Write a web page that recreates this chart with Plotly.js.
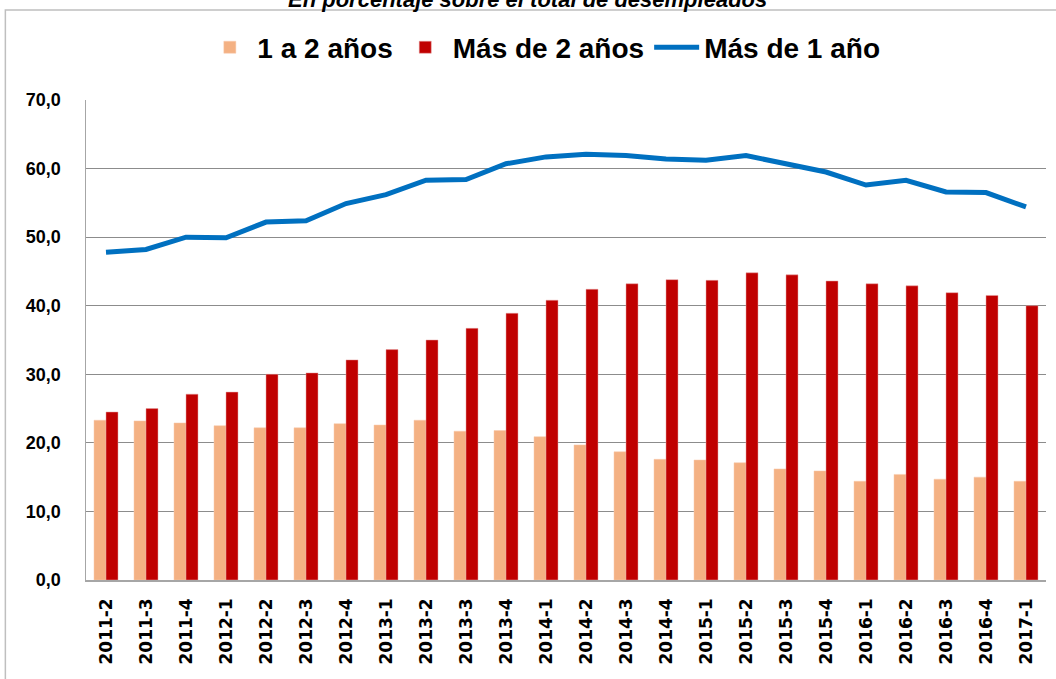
<!DOCTYPE html>
<html>
<head>
<meta charset="utf-8">
<script src="https://cdn.plot.ly/plotly-3.0.1.min.js"></script>
<style>html,body{margin:0;padding:0;background:#fff;}#chart{width:1056px;height:679px;}</style>
</head>
<body>
<div id="chart"></div>
<script>
const categories = ["2011-2","2011-3","2011-4","2012-1","2012-2","2012-3","2012-4","2013-1","2013-2","2013-3","2013-4","2014-1","2014-2","2014-3","2014-4","2015-1","2015-2","2015-3","2015-4","2016-1","2016-2","2016-3","2016-4","2017-1"];
const unoADos = [23.3,23.2,22.9,22.5,22.2,22.2,22.8,22.6,23.3,21.7,21.8,20.9,19.7,18.7,17.6,17.5,17.1,16.2,15.9,14.4,15.4,14.7,15.0,14.4];
const masDeDos = [24.5,25.0,27.1,27.4,30.0,30.2,32.1,33.6,35.0,36.7,38.9,40.8,42.4,43.2,43.8,43.7,44.8,44.5,43.6,43.2,42.9,41.9,41.5,40.0];
const masDeUno = [47.8,48.2,50.0,49.9,52.2,52.4,54.9,56.2,58.3,58.4,60.7,61.7,62.1,61.9,61.4,61.2,61.9,60.7,59.5,57.6,58.3,56.6,56.5,54.4];
const seriesNames = ["1 a 2 años","Más de 2 años","Más de 1 año"];
const subtitle = "En porcentaje sobre el total de desempleados";

const legendFont = {family: "Liberation Sans", size: 28, color: "#000", weight: "bold"};

const traces = [
  {type: "bar", name: seriesNames[0], x: categories, y: unoADos,
   marker: {color: "#F4B183", line: {color: "#F8CBAD", width: 0.5}}},
  {type: "bar", name: seriesNames[1], x: categories, y: masDeDos,
   marker: {color: "#C00000", line: {color: "#E6A0A0", width: 0.5}}},
  {type: "scatter", mode: "lines", name: seriesNames[2], x: categories, y: masDeUno,
   line: {color: "#0070C0", width: 5}}
];

const layout = {
  width: 1056, height: 679,
  margin: {l: 86, r: 10, t: 100, b: 99},
  paper_bgcolor: "#fff", plot_bgcolor: "#fff",
  separators: ",.",
  barmode: "group",
  bargap: 0.4,
  bargroupgap: 0,
  showlegend: true,
  legend: {orientation: "h", xref: "container", x: 0.515, xanchor: "center",
           yref: "container", y: 0.93, yanchor: "middle",
           font: legendFont, traceorder: "normal", itemwidth: 45},
  xaxis: {type: "category", tickangle: -90, showgrid: false, showline: true,
          linecolor: "#a6a6a6", linewidth: 1.5, ticks: "",
          ticklabelstandoff: 10,
          tickfont: {family: "DejaVu Sans", size: 17, color: "#000", weight: "bold"}},
  yaxis: {range: [0, 70], dtick: 10, tickformat: ".1f", showgrid: true,
          gridcolor: "#8c8c8c", gridwidth: 1, showline: true, linecolor: "#a6a6a6",
          linewidth: 1.5, zeroline: false, ticks: "", ticklabelstandoff: 20,
          tickfont: {family: "Liberation Sans", size: 18, color: "#000", weight: "bold"}},
  annotations: [{text: subtitle, xref: "paper", x: 0.46, xanchor: "center",
                 yref: "paper", y: 1, yanchor: "middle", yshift: 101, showarrow: false,
                 font: {family: "Liberation Sans", size: 22, color: "#000", weight: "bold", style: "italic"}}],
  shapes: [{type: "rect", xref: "paper", yref: "paper",
            x0: -0.084, x1: 1.03, y0: -0.25, y1: 1.1875,
            line: {color: "#bfbfbf", width: 1.5}, fillcolor: "rgba(0,0,0,0)", layer: "below"}]
};

Plotly.newPlot("chart", traces, layout, {displayModeBar: false, staticPlot: true});
</script>
</body>
</html>
